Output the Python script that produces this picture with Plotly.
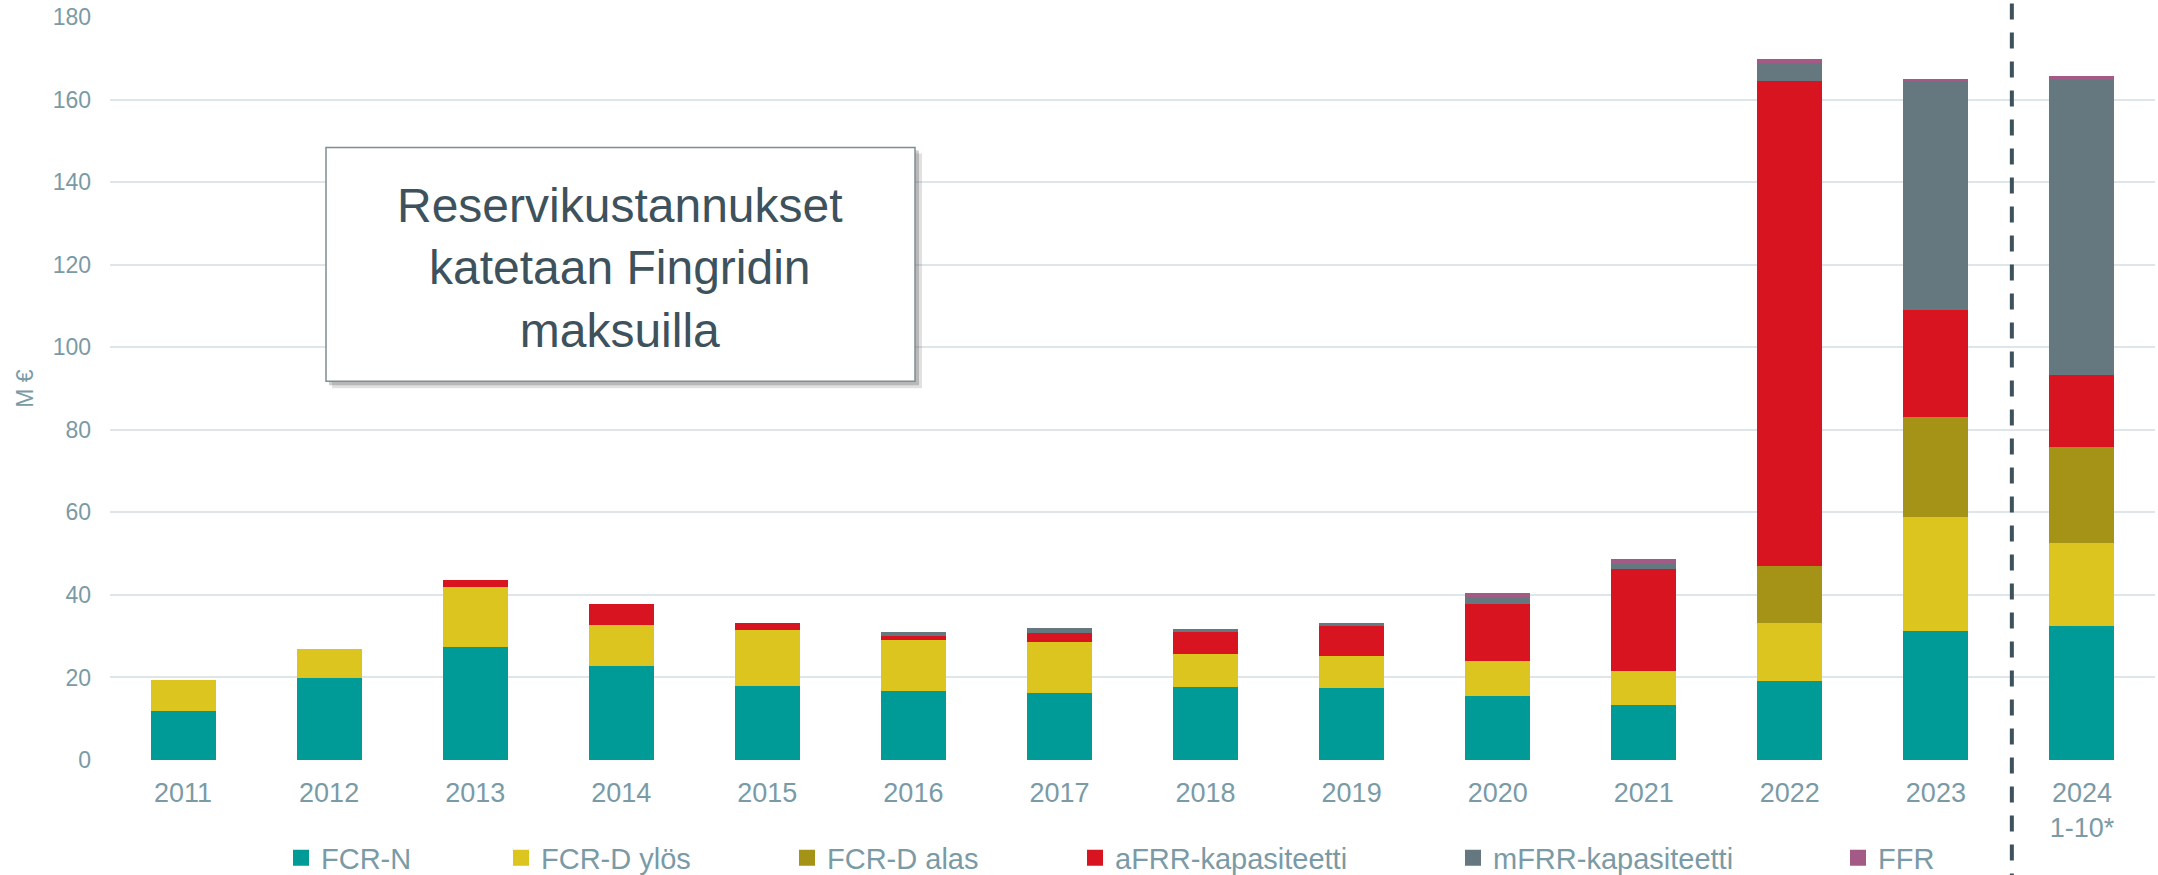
import plotly.graph_objects as go

# ---------------- data ----------------
years = ["2011", "2012", "2013", "2014", "2015", "2016", "2017", "2018",
         "2019", "2020", "2021", "2022", "2023", "2024<br>1-10*"]
fcr_n = [11.9, 19.8, 27.4, 22.8, 18.0, 16.7, 16.3, 17.7, 17.4, 15.5, 13.4, 19.1, 31.2, 32.4]
fcr_d_ylos = [7.5, 7.2, 14.5, 10.0, 13.6, 12.4, 12.4, 8.0, 7.9, 8.4, 8.2, 14.1, 27.6, 20.2]
fcr_d_alas = [0, 0, 0, 0, 0, 0, 0, 0, 0, 0, 0, 13.9, 24.3, 23.3]
afrr_kap = [0, 0, 1.7, 4.9, 1.7, 1.0, 2.0, 5.4, 7.2, 13.8, 24.7, 117.5, 26.0, 17.3]
mfrr_kap = [0, 0, 0, 0, 0, 0.8, 1.4, 0.6, 0.7, 1.7, 1.3, 4.3, 55.3, 71.6]
ffr = [0, 0, 0, 0, 0, 0, 0, 0, 0, 1.0, 1.1, 1.0, 0.6, 0.8]

series_names = ["FCR-N", "FCR-D ylös", "FCR-D alas", "aFRR-kapasiteetti",
                "mFRR-kapasiteetti", "FFR"]
series_values = [fcr_n, fcr_d_ylos, fcr_d_alas, afrr_kap, mfrr_kap, ffr]
series_colors = ["#009B96", "#DDC51F", "#A49317", "#D7141F", "#66787F", "#A35A87"]

y_ticks = [0, 20, 40, 60, 80, 100, 120, 140, 160, 180]
box_text = "Reservikustannukset<br>katetaan Fingridin<br>maksuilla"

# ---------------- layout geometry (pixels) ----------------
W, H = 2158, 875
ML, MR, MT, MB = 110, 3, 16.5, 115
PW = W - ML - MR
PH = H - MT - MB


def px_x(p):
    return (p - ML) / PW


def px_y(p):
    return (H - MB - p) / PH


FONT = "Liberation Sans, Arial, sans-serif"
TICK_COLOR = "#7A9AA6"
DARK = "#3D525C"

fig = go.Figure()

for name, vals, col in zip(series_names, series_values, series_colors):
    fig.add_trace(go.Bar(x=years, y=vals, name=name, marker=dict(color=col, line=dict(width=0)),
                         showlegend=False))

legend_square_px = [290, 510, 796, 1084, 1462, 1847]
legend_ids = ["legend", "legend2", "legend3", "legend4", "legend5", "legend6"]
legend_y = px_y(858)

for name, col, lid in zip(series_names, series_colors, legend_ids):
    fig.add_trace(go.Scatter(x=[None], y=[None], mode="markers", name=name,
                             marker=dict(symbol="square", size=17, color=col),
                             legend=lid, showlegend=True, hoverinfo="skip"))

legend_layouts = {}
for lid, sq in zip(legend_ids, legend_square_px):
    legend_layouts[lid] = dict(
        x=px_x(sq - 9), xanchor="left", y=legend_y, yanchor="middle",
        orientation="h", bgcolor="rgba(0,0,0,0)", borderwidth=0,
        font=dict(family=FONT, size=29, color=TICK_COLOR),
    )

shapes = [
    # shadow
    dict(type="rect", xref="paper", yref="paper",
         x0=px_x(332), x1=px_x(922), y0=px_y(153), y1=px_y(388),
         fillcolor="rgba(90,90,90,0.18)", line=dict(width=0), layer="above"),
    dict(type="rect", xref="paper", yref="paper",
         x0=px_x(329), x1=px_x(919), y0=px_y(150), y1=px_y(385),
         fillcolor="rgba(90,90,90,0.30)", line=dict(width=0), layer="above"),
    # box
    dict(type="rect", xref="paper", yref="paper",
         x0=px_x(326), x1=px_x(915), y0=px_y(147), y1=px_y(381),
         fillcolor="white", line=dict(color="#7D8D94", width=1.5), layer="above"),
    # dashed separator between 2023 and 2024
    dict(type="line", xref="x", yref="paper", x0=12.52, x1=12.52,
         y0=px_y(3), y1=px_y(875),
         line=dict(color=DARK, width=4, dash="16px,13px"), layer="above"),
]

fig.update_layout(
    width=W, height=H,
    margin=dict(l=ML, r=MR, t=MT, b=MB, autoexpand=False),
    paper_bgcolor="white", plot_bgcolor="white",
    barmode="stack", bargap=0.555,
    font=dict(family=FONT, color=TICK_COLOR),
    shapes=shapes,
    annotations=[dict(
        text=box_text, xref="paper", yref="paper",
        x=px_x(620), y=px_y(268), xanchor="center", yanchor="middle",
        showarrow=False, align="center",
        font=dict(family=FONT, size=48, color=DARK),
    )],
    xaxis=dict(
        type="category", range=[-0.5, 13.5], showgrid=False, showline=False,
        zeroline=False, ticks="", tickfont=dict(family=FONT, size=27, color=TICK_COLOR),
        ticklabelstandoff=14, automargin=False,
    ),
    yaxis=dict(
        range=[0, 180], tickvals=y_ticks, showgrid=True, gridcolor="#DFE6EA",
        gridwidth=2, zeroline=False, showline=False, ticks="",
        tickfont=dict(family=FONT, size=23, color=TICK_COLOR),
        ticklabelstandoff=18, automargin=False,
        title=dict(text="M €", font=dict(family=FONT, size=23, color=TICK_COLOR), standoff=12),
    ),
    **legend_layouts,
)

fig.write_html("out.html", config={"displayModeBar": False},
               post_script="document.body.style.margin='0';document.body.style.overflow='hidden';")
